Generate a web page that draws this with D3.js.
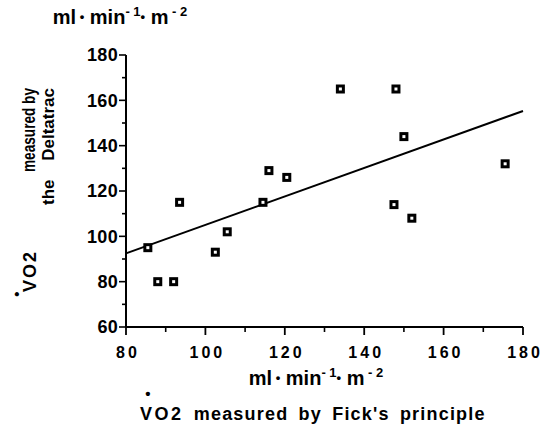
<!DOCTYPE html>
<html><head><meta charset="utf-8">
<script src="https://cdn.jsdelivr.net/npm/d3@7/dist/d3.min.js"></script>
<style>
body{margin:0;background:#fff;}
svg{display:block;}
text{font-family:"Liberation Sans",Arial,Helvetica,sans-serif;font-weight:bold;fill:#000;}
</style></head>
<body>
<script>
// Data
const fickVO2 = [85.5, 88, 92, 93.5, 102.5, 105.5, 114.5, 116, 120.5, 134, 147.5, 148, 150, 152, 175.5];
const deltatracVO2 = [95, 80, 80, 115, 93, 102, 115, 129, 126, 165, 114, 165, 144, 108, 132];
const fitX = [80, 180];
const fitY = [92.5, 155.3];
const xTicks = [80, 100, 120, 140, 160, 180];
const yTicks = [60, 80, 100, 120, 140, 160, 180];
const xMinor = [90, 110, 130, 150, 170];
const yMinor = [70, 90, 110, 130, 150, 170];

const W = 552, H = 427;
const svg = d3.select("body").append("svg").attr("width", W).attr("height", H);

const x = d3.scaleLinear().domain([80, 180]).range([126, 523]);
const y = d3.scaleLinear().domain([60, 180]).range([327, 55]);

// Y axis
const gy = svg.append("g").attr("transform", `translate(${x(80)},0)`);
gy.append("line").attr("y1", y(180)).attr("y2", y(60)).attr("stroke", "#000").attr("stroke-width", 2);
gy.selectAll(".maj").data(yTicks).join("line")
  .attr("x1", -7).attr("x2", 0).attr("y1", d => y(d)).attr("y2", d => y(d))
  .attr("stroke", "#000").attr("stroke-width", 1.6);
gy.selectAll(".min").data(yMinor).join("line")
  .attr("x1", -4).attr("x2", 0).attr("y1", d => y(d)).attr("y2", d => y(d))
  .attr("stroke", "#000").attr("stroke-width", 1.6);
gy.selectAll("text").data(yTicks).join("text")
  .attr("x", -8).attr("y", d => y(d)).attr("dy", "0.36em")
  .attr("text-anchor", "end").style("font-size", "18px").style("letter-spacing", "0.3px").text(d => d);

// X axis
const gx = svg.append("g").attr("transform", `translate(0,${y(60)})`);
gx.append("line").attr("x1", x(80)).attr("x2", x(180)).attr("stroke", "#000").attr("stroke-width", 2);
gx.selectAll(".maj").data(xTicks).join("line")
  .attr("x1", d => x(d)).attr("x2", d => x(d)).attr("y1", 0).attr("y2", 8)
  .attr("stroke", "#000").attr("stroke-width", 1.8);
gx.selectAll(".min").data(xMinor).join("line")
  .attr("x1", d => x(d)).attr("x2", d => x(d)).attr("y1", 0).attr("y2", 5)
  .attr("stroke", "#000").attr("stroke-width", 1.6);
gx.selectAll("text").data(xTicks).join("text")
  .attr("x", d => x(d) + 2).attr("y", 31)
  .attr("text-anchor", "middle").style("font-size", "16px").style("letter-spacing", "3px")
  .text(d => d);

// Regression line
svg.append("line")
  .attr("x1", x(fitX[0])).attr("y1", y(fitY[0]))
  .attr("x2", x(fitX[1])).attr("y2", y(fitY[1]))
  .attr("stroke", "#000").attr("stroke-width", 2);

// Points
const pts = svg.append("g").selectAll("g").data(fickVO2.map((v, i) => [v, deltatracVO2[i]])).join("g")
  .attr("transform", d => `translate(${x(d[0])},${y(d[1])})`);
pts.append("rect").attr("x", -4.5).attr("y", -4.5).attr("width", 9).attr("height", 9).attr("fill", "#000");
pts.append("rect").attr("x", -1.5).attr("y", -1.5).attr("width", 3).attr("height", 3).attr("fill", "#fff");

// Unit labels
function unitLabel(g, cx, cy) {
  const t = g.append("text").attr("x", cx).attr("y", cy).attr("text-anchor", "middle").style("font-size", "20px");
  t.append("tspan").text("ml");
  t.append("tspan").text(" •").style("font-size", "13px").attr("dy", -3);
  t.append("tspan").text(" min").attr("dy", 3);
  t.append("tspan").text("- 1").style("font-size", "13px").attr("dy", -8);
  t.append("tspan").text("•").style("font-size", "13px").attr("dy", 5);
  t.append("tspan").text(" m").attr("dy", 3);
  t.append("tspan").text(" - 2").style("font-size", "13px").attr("dy", -8);
}
unitLabel(svg, 120, 24);
unitLabel(svg, 316, 385);

// X title
const xt = svg.append("text").attr("x", 140).attr("y", 420).style("font-size", "18px").style("letter-spacing", "1.2px");
xt.append("tspan").text("VO2").style("letter-spacing", "2.5px");
xt.append("tspan").text("  measured by Fick's principle").style("word-spacing", "4px");
svg.append("text").attr("x", 148).attr("y", 399).attr("text-anchor", "middle").style("font-size", "15px").text("•");

// Y title (rotated)
const yt = svg.append("g");
yt.append("text").attr("transform", "translate(36,292) rotate(-90)").attr("text-anchor", "start")
  .style("font-size", "18px").style("letter-spacing", "2px").text("VO2");
yt.append("text").attr("transform", "translate(22,294) rotate(-90)").attr("text-anchor", "middle")
  .style("font-size", "15px").text("•");
yt.append("text").attr("transform", "translate(35,88) rotate(-90)").attr("text-anchor", "end")
  .style("font-size", "18px").attr("textLength", 84).attr("lengthAdjust", "spacingAndGlyphs").text("measured by");
yt.append("text").attr("transform", "translate(54,88) rotate(-90)").attr("text-anchor", "end")
  .style("font-size", "17px").style("word-spacing", "14px").text("the Deltatrac");
</script>
</body></html>
